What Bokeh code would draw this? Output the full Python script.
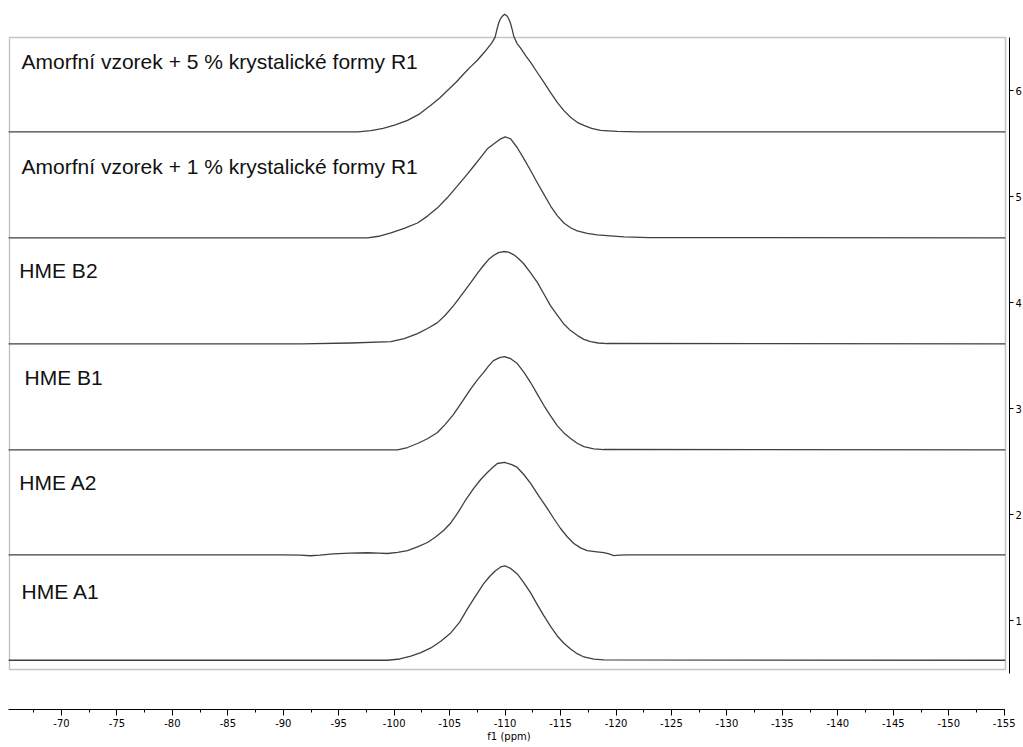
from bokeh.plotting import figure
from bokeh.models import Range1d, FixedTicker, SingleIntervalTicker, CustomJSTickFormatter
from bokeh.core.properties import value
from bokeh.embed import file_html
from bokeh.resources import INLINE

# ---- data ----
labels = [
    "HME A1",
    "HME A2",
    "HME B1",
    "HME B2",
    "Amorfní vzorek + 1 % krystalické formy R1",
    "Amorfní vzorek + 5 % krystalické formy R1",
]
offsets = [0.625, 1.62, 2.61, 3.61, 4.61, 5.61]

ppm_1 = [-65.2, -99.4, -100.5, -101.5, -102.4, -103.3, -104.2, -105.1, -105.9, -106.6, -107.3,
         -108.05, -108.6, -109.1, -109.6, -110.0, -110.5, -111.1, -111.7, -112.3, -112.9,
         -113.5, -114.1, -114.7, -115.3, -115.9, -116.5, -117.1, -118.0, -118.9, -155.1]
int_1 = [0, 0, 0.012, 0.04, 0.072, 0.116, 0.18, 0.258, 0.36, 0.484, 0.60,
         0.72, 0.79, 0.842, 0.88, 0.89, 0.866, 0.814, 0.73, 0.635, 0.525,
         0.418, 0.32, 0.229, 0.16, 0.107, 0.062, 0.031, 0.01, 0.003, 0]

ppm_2 = [-65.2, -90.0, -91.5, -92.45, -93.3, -94.5, -96.0, -97.6, -98.6, -99.4, -100.3,
         -101.2, -102.1, -103.0, -103.7, -104.45, -105.1, -105.7, -106.4, -107.15, -107.8,
         -108.4, -108.9, -109.3, -109.95, -110.6, -111.1, -111.7, -112.3, -113.0, -113.8,
         -114.4, -115.0, -115.6, -116.2, -116.8, -117.4, -118.1, -118.9, -119.3, -119.8,
         -120.3, -121.0, -155.1]
int_2 = [0, 0, -0.004, -0.009, -0.004, 0.008, 0.016, 0.019, 0.016, 0.012, 0.022,
         0.04, 0.075, 0.116, 0.165, 0.229, 0.30, 0.39, 0.51, 0.625, 0.71,
         0.776, 0.825, 0.861, 0.871, 0.85, 0.824, 0.755, 0.673, 0.56, 0.437,
         0.34, 0.248, 0.17, 0.107, 0.065, 0.04, 0.03, 0.02, 0.01, -0.008,
         -0.004, 0, 0]

ppm_3 = [-65.2, -100.3, -101.2, -102.1, -103.0, -103.9, -104.6, -105.35, -106.1, -106.9, -107.5,
         -108.05, -108.5, -108.95, -109.5, -109.95, -110.5, -111.1, -111.7, -112.3, -112.9,
         -113.5, -114.1, -114.7, -115.3, -115.9, -116.5, -117.1, -118.0, -118.9, -155.1]
int_3 = [0, 0, 0.022, 0.06, 0.105, 0.163, 0.24, 0.335, 0.45, 0.575, 0.66,
         0.729, 0.79, 0.842, 0.87, 0.88, 0.86, 0.814, 0.73, 0.635, 0.525,
         0.418, 0.32, 0.229, 0.16, 0.107, 0.062, 0.031, 0.01, 0.003, 0]

ppm_4 = [-65.2, -91.6, -96.1, -99.7, -100.9, -102.1, -103.0, -103.9, -104.6, -105.35, -106.1,
         -106.9, -107.5, -108.05, -108.5, -108.95, -109.4, -109.86, -110.3, -110.76, -111.2,
         -111.66, -112.3, -112.92, -113.5, -114.09, -114.7, -115.27, -115.9, -116.53, -117.1,
         -117.7, -118.4, -119.2, -155.1]
int_4 = [0, 0, 0.008, 0.02, 0.05, 0.097, 0.145, 0.20, 0.27, 0.36, 0.465,
         0.578, 0.665, 0.739, 0.795, 0.833, 0.86, 0.871, 0.865, 0.842, 0.805,
         0.758, 0.67, 0.578, 0.47, 0.361, 0.27, 0.19, 0.125, 0.078, 0.042,
         0.02, 0.008, 0.003, 0]

ppm_5 = [-65.2, -97.6, -98.6, -99.7, -100.9, -102.1, -103.0, -103.9, -104.8, -105.7, -106.5,
         -107.2, -107.8, -108.4, -109.0, -109.6, -110.0, -110.5, -111.1, -111.7, -112.3,
         -112.9, -113.5, -114.1, -114.7, -115.3, -115.9, -116.5, -117.4, -118.3, -119.5,
         -120.7, -123.0, -155.1]
int_5 = [0, 0, 0.015, 0.047, 0.09, 0.14, 0.205, 0.283, 0.38, 0.49, 0.59,
         0.68, 0.76, 0.84, 0.887, 0.934, 0.953, 0.934, 0.85, 0.745, 0.635,
         0.52, 0.41, 0.30, 0.21, 0.14, 0.095, 0.066, 0.042, 0.028, 0.018,
         0.01, 0.002, 0]

ppm_6 = [-65.2, -96.7, -97.9, -99.0, -100.1, -101.2, -102.3, -103.3, -104.1, -104.8, -105.6,
         -106.3, -106.9, -107.5, -108.2, -108.8, -109.1, -109.25, -109.4, -109.55, -109.7,
         -109.95, -110.2, -110.35, -110.5, -110.65, -110.8, -111.1, -111.4, -111.85, -112.3,
         -112.9, -113.5, -114.1, -114.7, -115.3, -115.9, -116.5, -117.1, -117.8, -118.6,
         -120.1, -122.0, -155.1]
int_6 = [0, 0, 0.012, 0.033, 0.065, 0.108, 0.17, 0.25, 0.32, 0.39, 0.47,
         0.55, 0.615, 0.675, 0.76, 0.84, 0.894, 0.96, 1.02, 1.06, 1.085,
         1.11, 1.09, 1.06, 1.02, 0.96, 0.894, 0.83, 0.79, 0.72, 0.656,
         0.56, 0.467, 0.37, 0.278, 0.20, 0.137, 0.09, 0.061, 0.033, 0.014,
         0.005, 0, 0]

x_ticks_interval = 5
y_ticks = [1, 2, 3, 4, 5, 6]

# ---- layout / style ----
X_START, X_END = -65.22, -155.48
Y_START, Y_END = 0.1604, 6.7736
label_x = [-66.4, -66.2, -66.66, -66.2, -66.4, -66.4]
label_dy = [0.645, 0.683, 0.683, 0.692, 0.674, 0.664]

p = figure(
    frame_width=1001, frame_height=701,
    x_range=Range1d(X_START, X_END), y_range=Range1d(Y_START, Y_END),
    output_backend="svg", toolbar_location=None, y_axis_location="right",
    min_border=0, min_border_left=8, min_border_top=8,
)
p.outline_line_color = None
p.grid.visible = False
p.background_fill_color = "white"

# panel frame
p.quad(left=[-65.3], right=[-155.12], top=[6.5], bottom=[0.538],
       fill_color=None, line_color="#c4c4c4", line_width=1.6)

series = [(ppm_1, int_1), (ppm_2, int_2), (ppm_3, int_3),
          (ppm_4, int_4), (ppm_5, int_5), (ppm_6, int_6)]
for (xs, ys), off in zip(series, offsets):
    p.line(xs, [off + v for v in ys], line_color="#404040", line_width=1.3,
           line_join="round")

p.text(x=label_x, y=[o + d for o, d in zip(offsets, label_dy)], text=labels,
       text_font=value("Liberation Sans"), text_font_size="21px",
       text_baseline="alphabetic", text_align="left", text_color="#111111")

# axes
xa = p.xaxis[0]
xa.ticker = SingleIntervalTicker(interval=x_ticks_interval, num_minor_ticks=2)
xa.formatter = CustomJSTickFormatter(code="return tick.toFixed(0);")
xa.bounds = (-155.05, -65.22)
xa.axis_label = "f1 (ppm)"
xa.axis_label_text_font = "DejaVu Sans"
xa.axis_label_text_font_size = "10px"
xa.axis_label_text_font_style = "normal"
xa.axis_label_text_color = "black"
xa.axis_label_standoff = 1
xa.major_label_text_font = "DejaVu Sans"
xa.major_label_text_font_size = "10px"
xa.major_label_text_color = "black"
xa.major_label_standoff = 3
xa.major_tick_in = 0
xa.major_tick_out = 6
xa.minor_tick_in = 0
xa.minor_tick_out = 3
xa.axis_line_color = "black"
xa.major_tick_line_color = "black"
xa.minor_tick_line_color = "black"

ya = p.yaxis[0]
ya.ticker = FixedTicker(ticks=y_ticks)
ya.formatter = CustomJSTickFormatter(code="return tick.toFixed(0);")
ya.bounds = (0.5, 6.5)
ya.major_label_text_font = "DejaVu Sans"
ya.major_label_text_font_size = "10px"
ya.major_label_text_color = "black"
ya.major_label_standoff = 2
ya.major_tick_in = 0
ya.major_tick_out = 4
ya.minor_tick_line_color = None
ya.axis_line_color = "black"
ya.major_tick_line_color = "black"

open("out.html", "w").write(file_html(p, INLINE))
